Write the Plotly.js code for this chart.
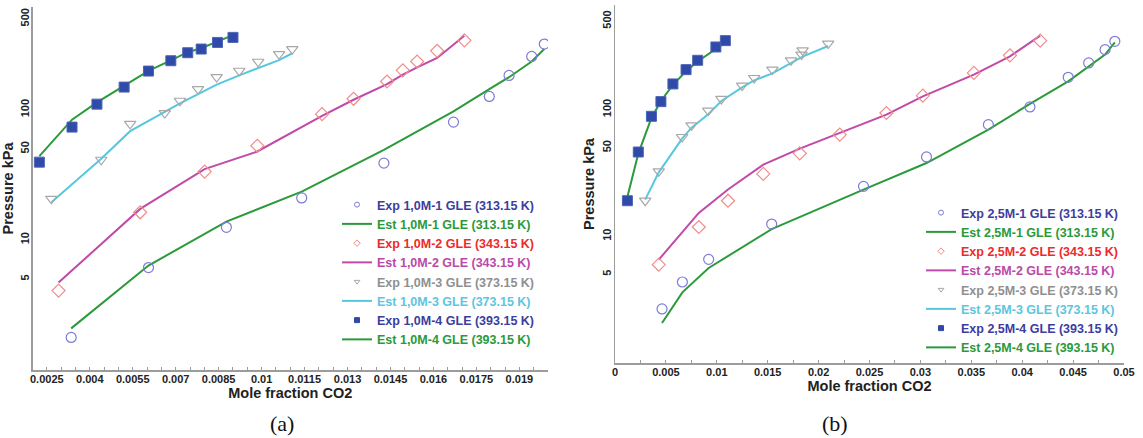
<!DOCTYPE html>
<html>
<head>
<meta charset="utf-8">
<script src="https://cdn.plot.ly/plotly-3.0.1.min.js"></script>
<style>html,body{margin:0;padding:0;background:#fff;}#chart{width:1143px;height:438px;}</style>
</head>
<body>
<div id="chart"></div>
<script>
// ---------- Panel (a): 1,0 M ----------
const a_exp1_x = [0.00335, 0.00605, 0.00877, 0.0114, 0.01427, 0.0167, 0.01795, 0.01864, 0.01943, 0.01987];
const a_exp1_y = [1.78, 6.13, 12.5, 21.0, 38.9, 80.4, 126.6, 183.7, 257, 320];
const a_est1_y = [2.09, 6.35, 13.8, 23.5, 49.2, 97.1, 144, 178, 235, 293];

const a_exp2_x = [0.00291, 0.00576, 0.00801, 0.00985, 0.01211, 0.01321, 0.01438, 0.01493, 0.01543, 0.01613, 0.01708];
const a_exp2_y = [4.08, 16.3, 33.5, 52.9, 92.6, 121.5, 165, 201, 235, 284, 342];
const a_est2_y = [4.70, 17.3, 35.0, 47.8, 89.9, 119.4, 157.5, 186, 212, 250, 371];

const a_exp3_x = [0.00266, 0.0044, 0.00541, 0.00662, 0.00715, 0.00778, 0.00843, 0.00922, 0.00988, 0.01061, 0.01107];
const a_exp3_y = [20.7, 41.3, 78, 94.3, 117.3, 144.1, 178.2, 199.5, 233.9, 268, 293];
const a_est3_y = [19.5, 42, 68.5, 97, 112, 132, 156, 184, 209, 241, 272];

const a_exp4_x = [0.00224, 0.00338, 0.00425, 0.0052, 0.00605, 0.00683, 0.00742, 0.00789, 0.00846, 0.0090];
const a_exp4_y = [39.6, 73.6, 110.5, 149.4, 198.4, 238.2, 274.5, 292.9, 329.5, 360.1];
const a_est4_y = [44, 84, 114, 152, 199, 240, 277, 297, 333, 375];

const a_names = ['Exp 1,0M-1 GLE (313.15 K)', 'Est 1,0M-1 GLE (313.15 K)', 'Exp 1,0M-2 GLE (343.15 K)', 'Est 1,0M-2 GLE (343.15 K)',
                 'Exp 1,0M-3 GLE (373.15 K)', 'Est 1,0M-3 GLE (373.15 K)', 'Exp 1,0M-4 GLE (393.15 K)', 'Est 1,0M-4 GLE (393.15 K)'];
const a_xticks = [0.0025, 0.004, 0.0055, 0.007, 0.0085, 0.01, 0.0115, 0.013, 0.0145, 0.016, 0.0175, 0.019];
const a_xtickText = ['0.0025', '0.004', '0.0055', '0.007', '0.0085', '0.01', '0.0115', '0.013', '0.0145', '0.016', '0.0175', '0.019'];

// ---------- Panel (b): 2,5 M ----------
const b_exp1_x = [0.00462, 0.00662, 0.0092, 0.01539, 0.02441, 0.0306, 0.03668, 0.04076, 0.04452, 0.04653, 0.04814, 0.0491];
const b_exp1_y = [2.67, 4.36, 6.58, 12.5, 24.8, 42.3, 76.1, 105, 180, 233.6, 297.6, 346.4];
const b_est1_y = [2.07, 3.61, 5.62, 11.4, 23.4, 37.9, 69.5, 111, 167, 220, 272, 340];

const b_exp2_x = [0.0043, 0.00823, 0.0111, 0.01457, 0.01815, 0.02208, 0.02666, 0.03024, 0.03525, 0.0388, 0.04177];
const b_exp2_y = [5.97, 11.85, 19.1, 31.1, 45.2, 63.5, 94.1, 129, 194.8, 268.5, 350.5];
const b_est2_y = [6.54, 15.3, 23.4, 36.8, 49.2, 65.4, 91.3, 127.4, 188.9, 263.7, 384];

const b_exp3_x = [0.00297, 0.0043, 0.00659, 0.00752, 0.00916, 0.01045, 0.01249, 0.01367, 0.01546, 0.01729, 0.01832, 0.01843, 0.02094];
const b_exp3_y = [19.1, 32.6, 60.8, 75.2, 98.2, 121.4, 154.7, 177.8, 206.9, 245.2, 271.8, 294.1, 331.9];
const b_est3_y = [19.5, 32, 59, 72, 92, 117, 150, 170, 193, 233, 258, 262, 318];

const b_exp4_x = [0.00122, 0.00229, 0.00358, 0.00451, 0.00569, 0.00698, 0.00812, 0.00991, 0.01084];
const b_exp4_y = [19.1, 46.3, 88.6, 115.7, 159.5, 206.9, 245.2, 312.4, 350.5];
const b_est4_y = [20.5, 45, 86, 117, 157, 201, 240, 303, 340];

const b_names = ['Exp 2,5M-1 GLE (313.15 K)', 'Est 2,5M-1 GLE (313.15 K)', 'Exp 2,5M-2 GLE (343.15 K)', 'Est 2,5M-2 GLE (343.15 K)',
                 'Exp 2,5M-3 GLE (373.15 K)', 'Est 2,5M-3 GLE (373.15 K)', 'Exp 2,5M-4 GLE (393.15 K)', 'Est 2,5M-4 GLE (393.15 K)'];
const b_xticks = [0, 0.005, 0.01, 0.015, 0.02, 0.025, 0.03, 0.035, 0.04, 0.045, 0.05];
const b_xtickText = ['0', '0.005', '0.01', '0.015', '0.02', '0.025', '0.03', '0.035', '0.04', '0.045', '0.05'];

const yTicks = [5, 10, 50, 100, 500];
const yTickText = ['5', '10', '50', '100', '500'];
const panelCaptions = ['(a)', '(b)'];
const xTitle = 'Mole fraction CO2';
const yTitle = 'Pressure kPa';

// ---------- styles ----------
const legendTextColors = ['#3d3d9e', '#2a9a3a', '#ee2a2a', '#b94aa8', '#8f8f8f', '#5cc6e0', '#3d3d9e', '#2a9a3a'];
const expStyle = [
  {symbol: 'circle-open', color: '#7c7cd6'},
  {symbol: 'diamond-open', color: '#f28c8c'},
  {symbol: 'triangle-down-open', color: '#a8a8a8'},
  {symbol: 'square', color: '#2f4aa8'}
];
const estColors = ['#2a9a3a', '#c04aa8', '#55c8e0', '#2a9a3a'];

function panel(xa, ya, legendId, series, names) {
  const tr = [];
  series.forEach((s, i) => {
    tr.push({x: s.x, y: s.est, xaxis: xa, yaxis: ya, mode: 'lines', showlegend: false,
             line: {color: estColors[i], width: 2}, hoverinfo: 'skip'});
  });
  series.forEach((s, i) => {
    const st = expStyle[i];
    tr.push({x: s.x, y: s.exp, xaxis: xa, yaxis: ya, mode: 'markers', showlegend: false,
             marker: {symbol: st.symbol, size: 10, color: st.color,
                      line: {width: st.symbol === 'square' ? 1 : 1.2, color: st.symbol === 'square' ? '#4d63b5' : st.color}},
             hoverinfo: 'skip'});
  });
  // legend entries (no data)
  series.forEach((s, i) => {
    const st = expStyle[i];
    tr.push({x: [null], y: [null], xaxis: xa, yaxis: ya, mode: 'markers', legend: legendId,
             name: '<span style="color:' + legendTextColors[2 * i] + '">' + names[2 * i] + '</span>',
             marker: {symbol: st.symbol, size: 5, color: st.color, line: {width: 1, color: st.color}}});
    tr.push({x: [null], y: [null], xaxis: xa, yaxis: ya, mode: 'lines', legend: legendId,
             name: '<span style="color:' + legendTextColors[2 * i + 1] + '">' + names[2 * i + 1] + '</span>',
             line: {color: estColors[i], width: 2}});
  });
  return tr;
}

const traces = [].concat(
  panel('x', 'y', 'legend', [
    {x: a_exp1_x, exp: a_exp1_y, est: a_est1_y},
    {x: a_exp2_x, exp: a_exp2_y, est: a_est2_y},
    {x: a_exp3_x, exp: a_exp3_y, est: a_est3_y},
    {x: a_exp4_x, exp: a_exp4_y, est: a_est4_y}
  ], a_names),
  panel('x2', 'y2', 'legend2', [
    {x: b_exp1_x, exp: b_exp1_y, est: b_est1_y},
    {x: b_exp2_x, exp: b_exp2_y, est: b_est2_y},
    {x: b_exp3_x, exp: b_exp3_y, est: b_est3_y},
    {x: b_exp4_x, exp: b_exp4_y, est: b_est4_y}
  ], b_names)
);

const W = 1143, H = 438;
const FONT = 'Liberation Sans, Arial, sans-serif';
const tickFont = {family: FONT, size: 11, color: '#222', weight: 'bold'};
const titleFont = {family: FONT, size: 14.5, color: '#222', weight: 'bold'};
const axLine = '#9c9c9c';

function xAxis(domain, range, vals, text, minorTick0, minorD, anchor) {
  return {domain: domain, range: range, anchor: anchor, tickmode: 'array', tickvals: vals, ticktext: text,
          ticks: 'inside', ticklen: 3, tickcolor: axLine, tickwidth: 1, ticklabelstandoff: -2,
          minor: {tickmode: 'linear', tick0: minorTick0, dtick: minorD, ticks: 'inside', ticklen: 3, tickcolor: axLine},
          showline: true, linecolor: axLine, linewidth: 1.5, showgrid: false, zeroline: false,
          tickfont: tickFont, title: {text: xTitle, font: titleFont, standoff: 4}, automargin: false, fixedrange: true};
}
function yAxis(domain, range, anchor) {
  return {domain: domain, range: range, type: 'log', anchor: anchor, tickmode: 'array', tickvals: yTicks, ticktext: yTickText,
          tickangle: -90, ticks: '', ticklabelstandoff: -2, showline: true, linecolor: axLine, linewidth: 1.5,
          showgrid: false, zeroline: false,
          tickfont: tickFont, title: {text: yTitle, font: titleFont, standoff: 3}, automargin: false, fixedrange: true};
}

const legendBase = {font: {family: FONT, size: 12.5, weight: 'bold'}, bgcolor: 'rgba(255,255,255,0)',
                    borderwidth: 0, xanchor: 'left', yanchor: 'top', tracegroupgap: 0, itemclick: false};

const layout = {
  width: W, height: H, margin: {l: 0, r: 0, t: 0, b: 0},
  paper_bgcolor: '#fff', plot_bgcolor: 'rgba(0,0,0,0)',
  font: {family: FONT, color: '#222'},
  showlegend: true,
  xaxis: xAxis([32.5 / W, 548 / W], [0.002, 0.020], a_xticks, a_xtickText, 0.002, 0.0005, 'y'),
  yaxis: yAxis([68 / H, 431 / H], [0, 2.79], 'x'),
  xaxis2: xAxis([615 / W, 1124 / W], [0, 0.05], b_xticks, b_xtickText, 0, 0.0025, 'y2'),
  yaxis2: yAxis([75 / H, 433 / H], [0, 2.826], 'x2'),
  legend: Object.assign({}, legendBase, {x: 337 / W, y: 1 - 190 / H}),
  legend2: Object.assign({}, legendBase, {x: 921 / W, y: 1 - 198 / H}),
  annotations: [
    {text: panelCaptions[0], xref: 'paper', yref: 'paper', x: 268 / W, y: 1 - 423 / H, yanchor: 'middle', showarrow: false,
     font: {family: 'Liberation Serif, Times New Roman, serif', size: 22, color: '#111'}},
    {text: panelCaptions[1], xref: 'paper', yref: 'paper', x: 850 / W, y: 1 - 423 / H, yanchor: 'middle', showarrow: false,
     font: {family: 'Liberation Serif, Times New Roman, serif', size: 22, color: '#111'}}
  ]
};

Plotly.newPlot('chart', traces, layout, {staticPlot: true, displayModeBar: false});
</script>
</body>
</html>
